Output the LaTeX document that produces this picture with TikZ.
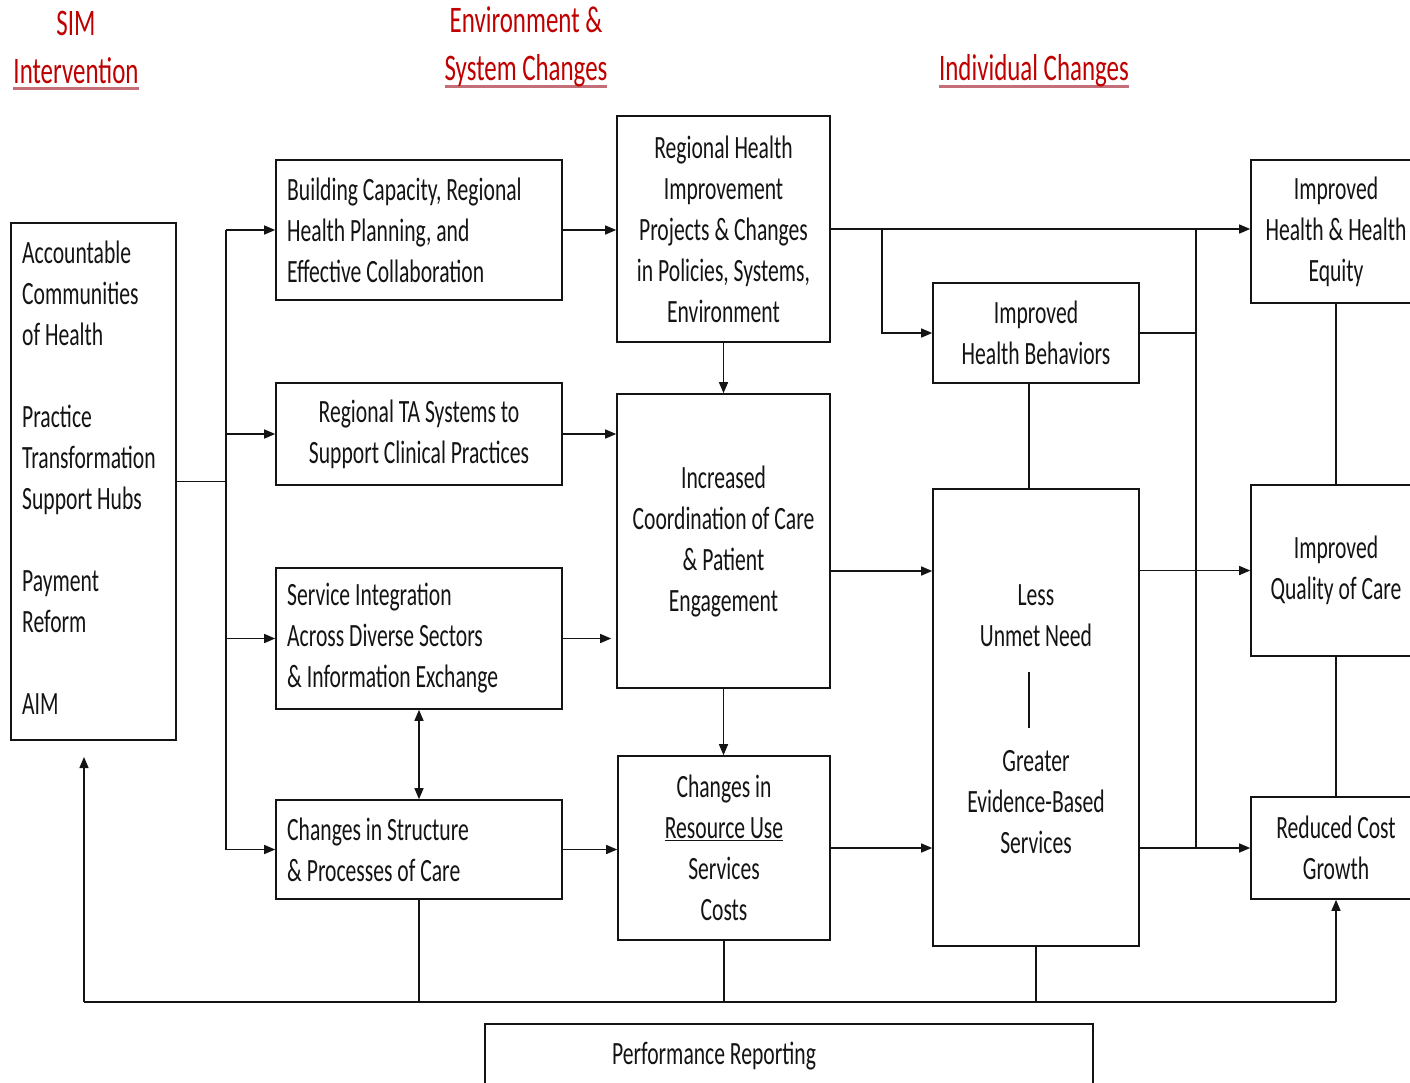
\documentclass[tikz,border=0pt]{standalone}
\usepackage{fontspec}
\setmainfont{Carlito}[FakeStretch=0.665]
\usetikzlibrary{arrows.meta}
\definecolor{hdrred}{RGB}{192,0,0}
\definecolor{ulc}{RGB}{196,110,120}
\definecolor{ink}{RGB}{20,20,20}
\newcommand\diagfont{\fontsize{32.5}{41}\selectfont}
\newcommand\hdrfont{\fontsize{37.5}{48}\selectfont}
\newcommand\redul[1]{\begingroup\setbox0\hbox{#1}\rlap{\smash{\textcolor{ulc}{\rule[-7pt]{\wd0}{3pt}}}}\box0\endgroup}
\begin{document}
\begin{tikzpicture}[x=1pt,y=-1pt,
  box/.style={draw=ink, line width=1.6pt, inner sep=0pt, align=center, font=\diagfont, text=ink},
  txt/.style={inner sep=0pt, align=center, font=\diagfont, text=ink},
  ltxt/.style={inner sep=0pt, align=left, anchor=west, font=\diagfont, text=ink},
  hdr/.style={inner sep=0pt, align=center, font=\hdrfont, text=hdrred},
  conn/.style={draw=ink, line width=1.4pt},
  arr/.style={conn, -{Triangle[length=11pt,width=9pt]}},
  dbl/.style={conn, {Triangle[length=11pt,width=9pt]}-{Triangle[length=11pt,width=9pt]}}]
\useasboundingbox (0,0) rectangle (1410,1082);
\fill[white] (0,0) rectangle (1410,1082);
\clip (0,0) rectangle (1410,1082);

% headers
\node[hdr] (h1) at (76,47) {SIM\\\redul{Intervention}};
\node[hdr] (h2) at (526,47) {Environment \&\\\redul{System Changes}};
\node[hdr] (h3) at (1034,71) {\redul{Individual Changes}};

% boxes
\node[box, minimum width=165pt, minimum height=517pt] (sim) at (93.5,481.5) {};
\node[ltxt] (simt) at (22,478)
  {Accountable\\Communities\\of Health\\[41pt]Practice\\Transformation\\Support Hubs\\[41pt]Payment\\Reform\\[41pt]AIM};
\node[box, minimum width=286pt, minimum height=140pt] (b1) at (419,230) {};
\node[ltxt] (b1t) at (287,230)
  {Building Capacity, Regional\\Health Planning, and\\Effective Collaboration};
\node[box, minimum width=286pt, minimum height=102pt] (b2) at (419,434)
  {Regional TA Systems to\\Support Clinical Practices};
\node[box, minimum width=286pt, minimum height=141pt] (b3) at (419,638.5) {};
\node[ltxt] (b3t) at (287,638.5)
  {Service Integration\\Across Diverse Sectors\\\& Information Exchange};
\node[box, minimum width=286pt, minimum height=99pt] (b4) at (419,849.5) {};
\node[ltxt] (b4t) at (287,849.5)
  {Changes in Structure\\\& Processes of Care};
\node[box, minimum width=213pt, minimum height=226pt] (c1) at (723.5,229)
  {Regional Health\\Improvement\\Projects \& Changes\\in Policies, Systems,\\Environment};
\node[box, minimum width=213pt, minimum height=294pt] (c2) at (723.5,541)
  {Increased\\Coordination of Care\\\& Patient\\Engagement};
\node[box, minimum width=212pt, minimum height=184pt] (c3) at (724,848)
  {Changes in\\\underline{Resource Use}\\Services\\Costs};
\node[box, minimum width=206pt, minimum height=100pt] (d1) at (1036,333)
  {Improved\\Health Behaviors};
\node[box, minimum width=206pt, minimum height=457pt] (d2) at (1036,717.5) {};
\node[txt] (dtop) at (1036,616) {Less\\Unmet Need};
\node[txt] (dbot) at (1036,802) {Greater\\Evidence-Based\\Services};
\node[box, minimum width=170pt, minimum height=143pt] (e1) at (1336,231.5)
  {Improved\\Health \& Health\\Equity};
\node[box, minimum width=170pt, minimum height=171pt] (e2) at (1336,570.5)
  {Improved\\Quality of Care};
\node[box, minimum width=170pt, minimum height=102pt] (e3) at (1336,848)
  {Reduced Cost\\Growth};
\node[box, minimum width=608pt, minimum height=80pt] (perf) at (789,1064) {};
\node[txt] (perft) at (714,1056) {Performance Reporting};

% coordinates
\coordinate (tr) at (226,481.5);
\coordinate (br) at (882,0);
\coordinate (jx) at (1196,0);
\coordinate (dl) at (1029,0);
\coordinate (r2) at (0,571);
\coordinate (fb) at (0,1002);
\coordinate (fbl) at (84,1002);
\coordinate (simin) at (84,757);
\coordinate (inA) at (1029,672);
\coordinate (inB) at (1029,728);

% left trunk
\draw[conn] (sim.east |- tr) -- (tr);
\draw[conn] (tr |- b1.west) -- (tr |- b4.west);
\draw[arr] (tr |- b1.west) -- (b1.west);
\draw[arr] (tr |- b2.west) -- (b2.west);
\draw[arr] (tr |- b3.west) -- (b3.west);
\draw[arr] (tr |- b4.west) -- (b4.west);

% column 2 to 3
\draw[arr] (b1.east) -- (b1.east -| c1.west);
\draw[arr] (b2.east) -- (b2.east -| c2.west);
\draw[arr] (b3.east) -- ([xshift=-5pt]b3.east -| c2.west);
\draw[arr] (b4.east) -- (b4.east -| c3.west);
\draw[dbl] (b3.south) -- (b4.north);
\draw[arr] (c1.south) -- (c2.north);
\draw[arr] (c2.south) -- (c2.south |- c3.north);

% to the right
\draw[arr] (c1.east) -- (c1.east -| e1.west);
\draw[arr] (br |- c1.east) |- (d1.west);
\draw[conn] (d1.east) -| (jx |- c1.east);
\draw[conn] (jx |- d1.east) -- (jx |- e3.west);
\draw[conn] (dl |- d1.south) -- (dl |- d2.north);
\draw[arr] (c2.east |- r2) -- (d2.west |- r2);
\draw[arr] (c3.east) -- (c3.east -| d2.west);
\draw[arr] (d2.east |- e2.west) -- (e2.west);
\draw[arr] (d2.east |- e3.west) -- (e3.west);
\draw[conn] (e1.south) -- (e2.north);
\draw[conn] (e2.south) -- (e3.north);
\draw[conn] (inA) -- (inB);

% feedback
\draw[conn] (fbl) -- (e3.south |- fb);
\draw[arr] (fbl) -- (simin);
\draw[arr] (e3.south |- fb) -- (e3.south);
\draw[conn] (b4.south) -- (b4.south |- fb);
\draw[conn] (c3.south) -- (c3.south |- fb);
\draw[conn] (d2.south) -- (d2.south |- fb);
\end{tikzpicture}
\end{document}
